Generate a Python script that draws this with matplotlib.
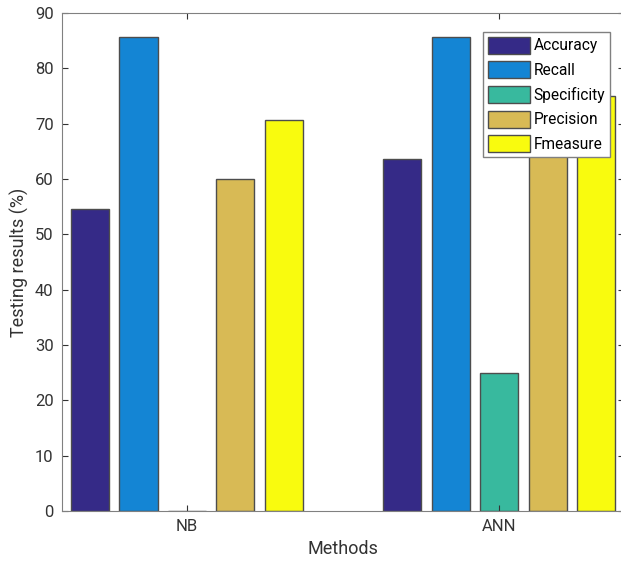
import matplotlib.pyplot as plt
import numpy as np

plt.rcParams['font.family'] = ['Roboto', 'DejaVu Sans']

methods = ['NB', 'ANN']
metrics = ['Accuracy', 'Recall', 'Specificity', 'Precision', 'Fmeasure']
values = {
    'Accuracy': [54.5, 63.6],
    'Recall': [85.7, 85.7],
    'Specificity': [0.0, 25.0],
    'Precision': [60.0, 66.7],
    'Fmeasure': [70.6, 75.0],
}
colors = ['#352a87', '#1485d4', '#38b99e', '#d8ba55', '#f9fb0e']

fig = plt.figure(figsize=(6.21, 5.74), dpi=100)
ax = fig.add_axes([0.0998, 0.1098, 0.9052, 0.8676])

x = np.arange(1, len(methods) + 1)
step = 0.155
width = 0.122
for i, m in enumerate(metrics):
    ax.bar(x + (i - 2) * step, values[m], width, color=colors[i],
           edgecolor='#4d4d4d', linewidth=1.0, label=m)

ax.set_xlim(0.6, 2.4)
ax.set_ylim(0, 90)
ax.set_yticks(np.arange(0, 91, 10))
ax.set_xticks(x)
ax.set_xticklabels(methods)
ax.tick_params(direction='in', labelsize=12, colors='#333333',
               top=True, right=True, length=4, pad=6)
for s in ax.spines.values():
    s.set_color('#808080')
ax.set_xlabel('Methods', fontsize=13, color='#333333')
ax.set_ylabel('Testing results (%)', fontsize=13, color='#333333')

leg = ax.legend(loc='upper left', bbox_to_anchor=(0.749, 0.962), fontsize=11.2,
                handlelength=2.75, handleheight=1.3, handletextpad=0.2,
                labelspacing=0.5, borderpad=0.3, borderaxespad=0,
                fancybox=False, framealpha=1, edgecolor='#808080')
leg.set_zorder(5)

fig.savefig('out.png', dpi=100)
